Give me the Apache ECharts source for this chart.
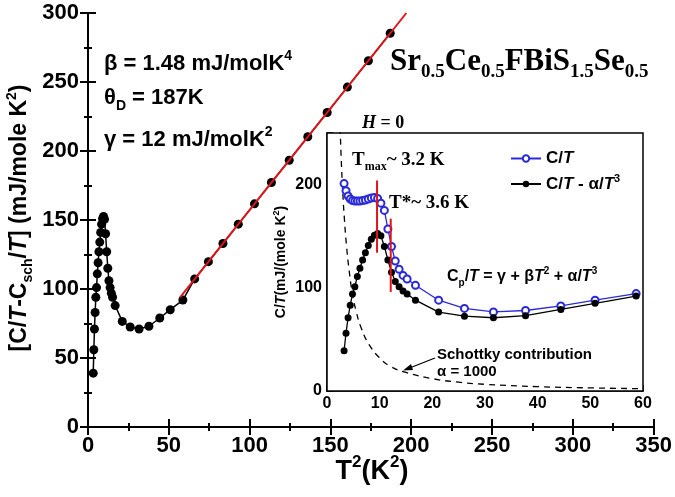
<!DOCTYPE html>
<html><head><meta charset="utf-8">
<script src="https://cdn.jsdelivr.net/npm/echarts@6/dist/echarts.min.js"></script>
<style>html,body{margin:0;padding:0;background:#fff}#c{width:675px;height:497px}</style>
</head><body><div id="c"></div>
<script>
// ---- data (T^2 in K^2, C/T in mJ/mole K^2) ----
const t2Low = [3.24,3.61,4.0,4.41,4.84,5.29,5.76,6.25,6.76,7.29,7.84,8.41,9.0,9.61,10.24,10.89,11.56,12.25,12.96,13.69,14.44,15.21,16.8,21.2,26.1,31.6,37.7,44.4,50.9,58.7];
const cMinusSch = [39,56,71,83,94,101,111,119,127,134,141,147,151,152.5,150.5,140,127,115,106,101,97,94,88,76.5,72.5,71,73,79,85,92];
const cOverT = [201,194,189,186,184.5,184,184,184,184.5,185,186,187,187.5,186.5,182,175,157,140,126,118,112,108.5,102.4,88,80,76.6,78,82.4,88,94.4];
const t2High = [66,74.5,83.5,93,103,113.5,124.5,136,148,160.5,173.5,187];
const cHigh = [107.3,119.8,133,147,161.7,177.2,193.3,210.3,227.9,246.3,265.4,285.3];
const fitT2 = [57,197];
const fitC = [94,300];
const schT2 = [2.5,2.7,3.0,3.3,3.7,4.2,4.8,5.5,6.5,8,10,12,15,20,25,30,40,50,60];
const schC = [255,225,192,167,141,117,95,78,61,45,32,24,18,12,8.5,6.5,4.2,3,2.2];
const tmaxT2 = [9.5,9.5], tmaxC = [134,204];
const tstarT2 = [12.1,12.1], tstarC = [96,167];
const mainXTicks = [0,50,100,150,200,250,300,350];
const mainYTicks = [0,50,100,150,200,250,300];
const insetXTicks = [0,10,20,30,40,50,60];
const insetYLabels = [0,100,200];

const zip = (a,b) => a.map((v,i)=>[v,b[i]]);
const SANS = 'Liberation Sans, Arial, sans-serif';
const SERIF = 'Liberation Serif, Times New Roman, serif';

function rich(size, family, color, lh) {
  const sub = Math.round(size*0.62);
  return {
    n:   {fontSize:size, fontWeight:'bold', fontFamily:family, color:color, lineHeight:lh, verticalAlign:'middle'},
    i:   {fontSize:size, fontWeight:'bold', fontStyle:'italic', fontFamily:family, color:color, lineHeight:lh, verticalAlign:'middle'},
    sup: {fontSize:sub, fontWeight:'bold', fontFamily:family, color:color, lineHeight:sub, verticalAlign:'top'},
    sub: {fontSize:sub, fontWeight:'bold', fontFamily:family, color:color, lineHeight:sub, verticalAlign:'bottom'}
  };
}
function txt(x, y, text, size, family, color, opts) {
  opts = opts || {};
  return {
    type:'text', x:x, y:y, rotation: opts.rot || 0, z:100,
    style:{ text:text, rich: rich(size, family, color, opts.lh || Math.round(size*1.35)),
      align: opts.align || 'left', verticalAlign:'middle' }
  };
}

const axisLine = {lineStyle:{color:'#000', width:2}};
const mainLabel = {color:'#000', fontSize:22, fontWeight:'bold', fontFamily:SANS};
const insetLabel = {color:'#000', fontSize:16, fontWeight:'bold', fontFamily:SANS};

const option = {
  animation:false,
  backgroundColor:'#fff',
  grid:[
    {left:88, right:17, top:13, bottom:70},
    {left:327, right:32, top:133, bottom:106, show:true, backgroundColor:'#fff', borderColor:'#000', borderWidth:1.5, z:3}
  ],
  legend:{
    data:['C/T','C/T - α/T³'], orient:'vertical', left:505, top:145, itemWidth:30, itemHeight:8, itemGap:6,
    formatter: n => n==='C/T' ? '{n|C/}{i|T}' : '{n|C/}{i|T}{n| - α/}{i|T}{sup|3}',
    textStyle:{rich: rich(17, SANS, '#000', 22)}
  },
  xAxis:[
    {gridIndex:0, type:'value', min:0, max:350, interval:50, axisLine:axisLine,
     axisTick:{inside:true, length:8, lineStyle:{width:2}}, minorTick:{show:true, splitNumber:2, length:4, lineStyle:{color:'#000', width:2}},
     axisLabel:Object.assign({margin:8, customValues: mainXTicks}, mainLabel), splitLine:{show:false}, minorSplitLine:{show:false}},
    {gridIndex:0, type:'value', position:'top', min:0, max:350, interval:50, axisLine:axisLine,
     axisTick:{inside:true, length:8, lineStyle:{width:2}}, minorTick:{show:true, splitNumber:2, length:4, lineStyle:{color:'#000', width:2}},
     axisLabel:{show:false}, splitLine:{show:false}},
    {gridIndex:1, type:'value', min:0, max:60, interval:10, axisLine:{lineStyle:{color:'#000', width:1.5}},
     axisTick:{inside:true, length:6, lineStyle:{width:1.5}}, minorTick:{show:true, splitNumber:2, length:4, lineStyle:{color:'#000', width:1.5}},
     axisLabel:Object.assign({margin:5, customValues: insetXTicks}, insetLabel), splitLine:{show:false}}
  ],
  yAxis:[
    {gridIndex:0, type:'value', min:0, max:300, interval:50, axisLine:axisLine,
     axisTick:{inside:true, length:8, lineStyle:{width:2}}, minorTick:{show:true, splitNumber:2, length:4, lineStyle:{color:'#000', width:2}},
     axisLabel:Object.assign({margin:9, customValues: mainYTicks}, mainLabel), splitLine:{show:false}},
    {gridIndex:0, type:'value', position:'right', min:0, max:300, interval:50, axisLine:axisLine,
     axisTick:{inside:true, length:8, lineStyle:{width:2}}, minorTick:{show:true, splitNumber:2, length:4, lineStyle:{color:'#000', width:2}},
     axisLabel:{show:false}, splitLine:{show:false}},
    {gridIndex:1, type:'value', min:0, max:250, interval:50, axisLine:{lineStyle:{color:'#000', width:1.5}},
     axisTick:{inside:true, length:6, lineStyle:{width:1.5}},
     axisLabel:Object.assign({margin:5, customValues: insetYLabels}, insetLabel), splitLine:{show:false}}
  ],
  series:[
    {name:'main', type:'line', xAxisIndex:0, yAxisIndex:0, data: zip(t2Low.concat(t2High), cMinusSch.concat(cHigh)),
     symbol:'circle', symbolSize:9, itemStyle:{color:'#000'}, lineStyle:{color:'#000', width:1.5}, z:2},
    {name:'fit', type:'line', xAxisIndex:0, yAxisIndex:0, data: zip(fitT2, fitC), symbol:'none',
     lineStyle:{color:'#e0141a', width:2}, z:4},
    {name:'schottky', type:'line', xAxisIndex:2, yAxisIndex:2, data: zip(schT2, schC), symbol:'none', smooth:true,
     lineStyle:{color:'#000', width:1.3, type:[6,5]}, z:5},
    {name:'C/T', type:'line', xAxisIndex:2, yAxisIndex:2, data: zip(t2Low, cOverT), symbol:'emptyCircle', symbolSize:7,
     itemStyle:{color:'#2a2ad8', borderWidth:1}, lineStyle:{color:'#2a2ad8', width:1.3}, z:6},
    {name:'C/T - α/T³', type:'line', xAxisIndex:2, yAxisIndex:2, data: zip(t2Low, cMinusSch), symbol:'circle', symbolSize:7,
     itemStyle:{color:'#000'}, lineStyle:{color:'#000', width:1.3}, z:7},
    {name:'tmax', type:'line', xAxisIndex:2, yAxisIndex:2, data: zip(tmaxT2, tmaxC), symbol:'none',
     lineStyle:{color:'#e0141a', width:2}, z:8},
    {name:'tstar', type:'line', xAxisIndex:2, yAxisIndex:2, data: zip(tstarT2, tstarC), symbol:'none',
     lineStyle:{color:'#e0141a', width:2}, z:8}
  ],
  graphic:[
    txt(20, 218, '{n|[C/}{i|T}{n|-C}{sub|sch}{n|/}{i|T}{n|] (mJ/mole K}{sup|2}{n|)}', 23, SANS, '#000', {rot:Math.PI/2, align:'center', lh:30}),
    txt(372, 472, '{n|T}{sup|2}{n|(K}{sup|2}{n|)}', 27, SANS, '#000', {align:'center', lh:36}),
    txt(104, 64, '{n|β = 1.48 mJ/molK}{sup|4}', 22, SANS, '#000', {lh:30}),
    txt(104, 98, '{n|θ}{sub|D}{n| = 187K}', 22, SANS, '#000', {lh:30}),
    txt(104, 140, '{n|γ = 12 mJ/molK}{sup|2}', 22, SANS, '#000', {lh:30}),
    txt(390, 62, '{n|Sr}{sub|0.5}{n|Ce}{sub|0.5}{n|FBiS}{sub|1.5}{n|Se}{sub|0.5}', 31, SERIF, '#2020e0', {lh:40}),
    txt(362, 123, '{i|H}{n| = 0}', 18, SERIF, '#000', {lh:22}),
    txt(352, 160, '{n|T}{sub|max}{n|~ 3.2 K}', 19, SERIF, '#000', {lh:26}),
    txt(389, 203, '{n|T*~ 3.6 K}', 19, SERIF, '#000', {lh:26}),
    txt(447, 277, '{n|C}{sub|p}{n|/}{i|T}{n| = γ + β}{i|T}{sup|2}{n| + α/}{i|T}{sup|3}', 16, SANS, '#000', {lh:22}),
    txt(437, 355, '{n|Schottky contribution}', 15, SANS, '#000', {lh:20}),
    txt(437, 372, '{n|α = 1000}', 15, SANS, '#000', {lh:20}),
    txt(281, 262, '{n|C/}{i|T}{n|(mJ/(mole K}{sup|2}{n|)}', 14, SANS, '#000', {rot:Math.PI/2, align:'center', lh:18}),
    {type:'line', z:100, shape:{x1:435, y1:358, x2:407, y2:369}, style:{stroke:'#000', lineWidth:1.3}},
    {type:'polygon', z:100, shape:{points:[[403,370.5],[411,364],[413,370]]}, style:{fill:'#000'}}
  ]
};
const chart = echarts.init(document.getElementById('c'), null, {renderer:'canvas'});
chart.setOption(option);
</script></body></html>
